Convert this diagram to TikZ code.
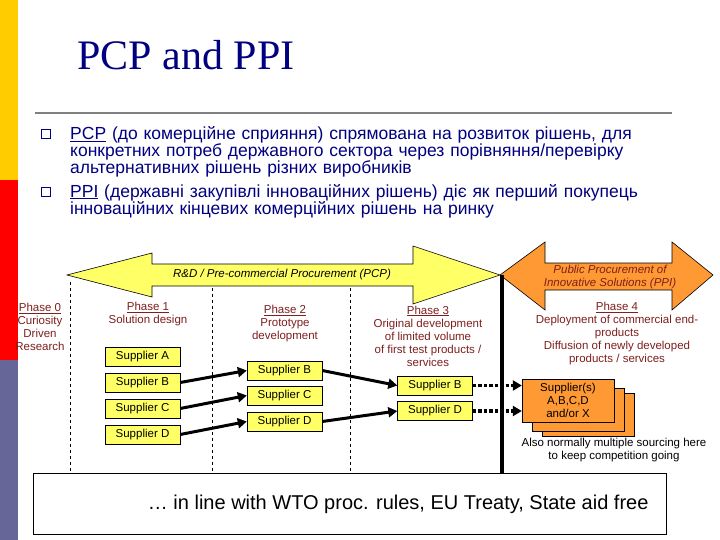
\documentclass[tikz,border=0pt]{standalone}
\usepackage{fontspec}
\setmainfont{Liberation Sans}
\newfontfamily\titlefont{Liberation Serif}
\usetikzlibrary{arrows.meta}
\definecolor{navy}{HTML}{000080}
\definecolor{dred}{HTML}{7F1F1F}
\definecolor{yfill}{HTML}{FFFF66}
\definecolor{ofill}{HTML}{FF9933}
\definecolor{barblue}{HTML}{666699}
\definecolor{baryel}{HTML}{FFCC00}
\tikzset{
  sup/.style={draw=black, fill=yfill, minimum width=75pt, minimum height=19pt, inner sep=0pt, font=\fontsize{11.5}{13}\selectfont},
  phase/.style={align=center, text=dred, font=\fontsize{11.5}{13}\selectfont, inner sep=0pt},
  flow/.style={line width=3pt, -{Triangle[length=9pt,width=10pt]}},
  dflow/.style={line width=3.5pt, dotted, -{Triangle[length=9pt,width=10pt]}},
  bul/.style={anchor=north west, align=left, text=navy, font=\fontsize{17.5}{17}\selectfont, inner sep=0pt, text width=620pt},
  vdash/.style={dashed, line width=0.8pt},
  obox/.style={draw=black, fill=ofill, minimum width=92pt, minimum height=43pt, inner sep=0pt}
}
\begin{document}
\begin{tikzpicture}[x=1pt,y=-1pt]
\useasboundingbox (0,0) rectangle (720,540);
\fill[white] (0,0) rectangle (720,540);
% side bar
\fill[baryel] (0,0) rectangle (18,180);
\fill[red] (0,180) rectangle (18,360);
\fill[barblue] (0,360) rectangle (18,540);
% title
\node[anchor=west, text=navy, font=\titlefont\fontsize{42}{46}\selectfont] (title) at (74,55) {PCP and PPI};
\draw[gray, line width=2pt] (35,113) -- (672,113);
% bullets
\node[draw=navy, fill=white, minimum size=9pt, inner sep=0pt, line width=0.8pt] (b1) at (46,134) {};
\node[draw=navy, fill=white, minimum size=9pt, inner sep=0pt, line width=0.8pt] (b2) at (46,192) {};
\node[bul] (t1) at (70,126) {\underline{PCP} (до комерційне сприяння) спрямована на розвиток рішень, для\\конкретних потреб державного сектора через порівняння/перевірку\\альтернативних рішень різних виробників};
\node[bul] (t2) at (70,184) {\underline{PPI} (державні закупівлі інноваційних рішень) діє як перший покупець\\інноваційних кінцевих комерційних рішень на ринку};
% dashed lines
\draw[vdash] (70,282) -- (70,475);
\draw[vdash] (212,282) -- (212,475);
\draw[vdash] (350,282) -- (350,475);
% yellow double arrow
\draw[fill=yfill, line width=0.6pt] (67,275) -- (152,253) -- (152,264) -- (413,264) -- (413,246) -- (500,275) -- (413,304) -- (413,286) -- (152,286) -- (152,297) -- cycle;
\node[font=\itshape\fontsize{11.5}{13}\selectfont] (pcp) at (282,275) {R\&D / Pre-commercial Procurement (PCP)};
% orange double arrow
\draw[fill=ofill, line width=0.6pt] (500,275) -- (545,242) -- (545,263) -- (672,263) -- (672,242) -- (713,275) -- (672,310) -- (672,290) -- (545,290) -- (545,310) -- cycle;
\node[align=center, text=dred, font=\itshape\fontsize{11.5}{13}\selectfont] (ppi) at (610,277) {Public Procurement of\\Innovative Solutions (PPI)};
% black vertical line
\draw[line width=4pt] (502,275) -- (502,474);
% phases
\node[phase] (p0) at (40,327) {\underline{Phase 0}\\Curiosity\\Driven\\Research};
\node[phase] (p1) at (148,314) {\underline{Phase 1}\\Solution design};
\node[phase] (p2) at (285,324) {\underline{Phase 2}\\Prototype\\development};
\node[phase] (p3) at (428,336) {\underline{Phase 3}\\Original development\\of limited volume\\of first test products /\\services};
\node[phase] (p4) at (617,334) {\underline{Phase 4}\\Deployment of commercial end-\\products\\Diffusion of newly developed\\products / services};
% suppliers
\node[sup] (a1) at (142.5,356.5) {Supplier A};
\node[sup] (b1s) at (142.5,382.5) {Supplier B};
\node[sup] (c1) at (142.5,408.5) {Supplier C};
\node[sup] (d1) at (142.5,434.5) {Supplier D};
\node[sup] (b2s) at (284.5,370.5) {Supplier B};
\node[sup] (c2) at (284.5,395.5) {Supplier C};
\node[sup] (d2) at (284.5,421.5) {Supplier D};
\node[sup] (b3) at (435,385.5) {Supplier B};
\node[sup] (d3) at (435,411) {Supplier D};
% orange stack
\node[obox] (o3) at (588,415) {};
\node[obox] (o2) at (578,410) {};
\node[obox, align=center, font=\fontsize{11.5}{13}\selectfont] (o1) at (568,400.5) {Supplier(s)\\A,B,C,D\\and/or X};
\node[align=center, font=\fontsize{11.5}{13}\selectfont] (also) at (614,450) {Also normally multiple sourcing here\\to keep competition going};
% arrows
\draw[flow] (b1s.east) -- (b2s.west);
\draw[flow] (c1.east) -- (c2.west);
\draw[flow] (d1.east) -- (d2.west);
\draw[flow] (b2s.east) -- (b3.west);
\draw[flow] (d2.east) -- (d3.west);
\draw[dflow] (b3.east) -- (b3.east -| o1.west);
\draw[dflow] (d3.east) -- (d3.east -| o1.west);
% bottom box
\node[draw=black, fill=white, line width=0.8pt, minimum width=633pt, minimum height=61pt, inner sep=0pt] (bot) at (349.5,504) {};
\node[anchor=east, font=\fontsize{20}{22}\selectfont] (wto) at (652,504) {… in line with WTO proc. rules, EU Treaty, State aid free};
\end{tikzpicture}
\end{document}
